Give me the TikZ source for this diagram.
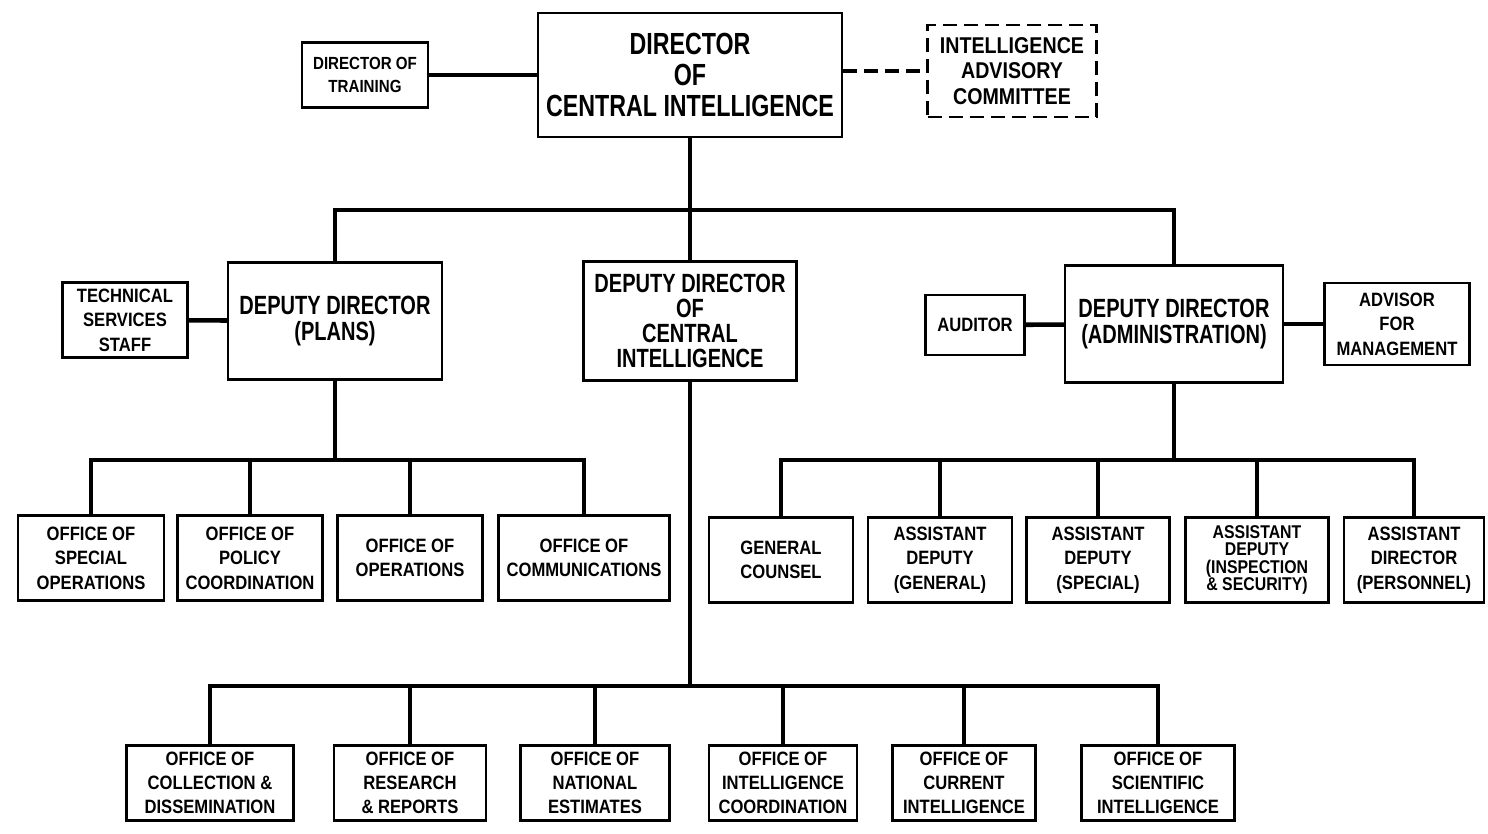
\documentclass[tikz,border=0pt]{standalone}
\usepackage{fontspec}
\newfontfamily\orgfont{Liberation Sans}[FakeStretch=0.86]
\newfontfamily\bigorgfont{Liberation Sans}[FakeStretch=0.76]
\usepackage{tikz}

\begin{document}
\begin{tikzpicture}[x=0.02cm, y=-0.02cm,
		box/.style={draw, line width=1.3pt, align=center, inner sep=0pt,
			font=\orgfont\bfseries\fontsize{11}{14}\selectfont},
		bigbox/.style={box, font=\bigorgfont\bfseries\fontsize{15}{15.3}\selectfont},
		boxsize/.style 2 args={minimum width=#1*0.02cm, minimum height=#2*0.02cm},
		link/.style={line width=2.6pt}]
		\useasboundingbox (0,0) rectangle (1488,833);

		% Director and staff
		\node[box, boxsize={126}{65}, font=\orgfont\bfseries\fontsize{10}{13}\selectfont] (train) at (365,75) {DIRECTOR OF\\TRAINING};
		\node[bigbox, boxsize={304}{124}, font=\bigorgfont\bfseries\fontsize{17.4}{17.4}\selectfont] (dci) at (690,75) {DIRECTOR\\OF\\CENTRAL INTELLIGENCE};
		\node[box, boxsize={169}{92}, dashed, dash pattern=on 8pt off 4pt, font=\orgfont\bfseries\fontsize{13}{14.5}\selectfont] (iac) at (1012,71) {INTELLIGENCE\\ADVISORY\\COMMITTEE};
		\draw[link] (train) -- (dci);
		\draw[link, dash pattern=on 8pt off 4pt] (iac.west -| dci.east) -- (iac.west);

		% Deputies
		\node[box, boxsize={125}{75}] (tss) at (125,320) {TECHNICAL\\SERVICES\\STAFF};
		\node[bigbox, boxsize={214}{117}] (ddp) at (335,321) {DEPUTY DIRECTOR\\(PLANS)};
		\node[bigbox, boxsize={213}{119}, font=\bigorgfont\bfseries\fontsize{15}{14.3}\selectfont] (ddci) at (690,321) {DEPUTY DIRECTOR\\OF\\CENTRAL\\INTELLIGENCE};
		\node[box, boxsize={99}{60}] (aud) at (975,325) {AUDITOR};
		\node[bigbox, boxsize={218}{117}] (dda) at (1174,324) {DEPUTY DIRECTOR\\(ADMINISTRATION)};
		\node[box, boxsize={145}{82}] (adv) at (1397,324) {ADVISOR\\FOR\\MANAGEMENT};

		\coordinate (topbus) at (690,210);
		\draw[link] (dci) -- (ddci);
		\draw[link] (ddp.north) |- (topbus) -| (dda.north);
		\draw[link] (tss) -- (ddp);
		\draw[link] (aud) -- (dda);
		\draw[link] (dda) -- (adv);

		% Plans offices
		\node[box, boxsize={146}{85}] (spec) at (91,558) {OFFICE OF\\SPECIAL\\OPERATIONS};
		\node[box, boxsize={145}{85}] (policy) at (250,558) {OFFICE OF\\POLICY\\COORDINATION};
		\node[box, boxsize={145}{85}] (ops) at (410,558) {OFFICE OF\\OPERATIONS};
		\node[box, boxsize={171}{85}] (comm) at (584,558) {OFFICE OF\\COMMUNICATIONS};
		\coordinate (planbus) at (335,460);
		\draw[link] (ddp) -- (planbus);
		\foreach \n in {spec,policy,ops,comm}
			\draw[link] (planbus) -| (\n.north);

		% Administration offices
		\node[box, boxsize={144}{85}] (gc) at (781,560) {GENERAL\\COUNSEL};
		\node[box, boxsize={144}{85}] (agen) at (940,560) {ASSISTANT\\DEPUTY\\(GENERAL)};
		\node[box, boxsize={143}{85}] (aspec) at (1098,560) {ASSISTANT\\DEPUTY\\(SPECIAL)};
		\node[box, boxsize={143}{85}, font=\orgfont\bfseries\fontsize{10.5}{9.8}\selectfont] (ainsp) at (1257,560) {ASSISTANT\\DEPUTY\\(INSPECTION\\\& SECURITY)};
		\node[box, boxsize={140}{85}] (apers) at (1414,560) {ASSISTANT\\DIRECTOR\\(PERSONNEL)};
		\coordinate (admbus) at (1174,460);
		\draw[link] (dda) -- (admbus);
		\foreach \n in {gc,agen,aspec,ainsp,apers}
			\draw[link] (admbus) -| (\n.north);

		% Intelligence offices
		\node[box, boxsize={167}{75}, font=\orgfont\bfseries\fontsize{11}{13.6}\selectfont] (coll) at (210,783) {OFFICE OF\\COLLECTION \&\\DISSEMINATION};
		\node[box, boxsize={152}{75}, font=\orgfont\bfseries\fontsize{11}{13.6}\selectfont] (res) at (410,783) {OFFICE OF\\RESEARCH\\\& REPORTS};
		\node[box, boxsize={149}{75}, font=\orgfont\bfseries\fontsize{11}{13.6}\selectfont] (nat) at (595,783) {OFFICE OF\\NATIONAL\\ESTIMATES};
		\node[box, boxsize={148}{75}, font=\orgfont\bfseries\fontsize{11}{13.6}\selectfont] (icoord) at (783,783) {OFFICE OF\\INTELLIGENCE\\COORDINATION};
		\node[box, boxsize={143}{75}, font=\orgfont\bfseries\fontsize{11}{13.6}\selectfont] (curr) at (964,783) {OFFICE OF\\CURRENT\\INTELLIGENCE};
		\node[box, boxsize={153}{75}, font=\orgfont\bfseries\fontsize{11}{13.6}\selectfont] (sci) at (1158,783) {OFFICE OF\\SCIENTIFIC\\INTELLIGENCE};
		\coordinate (dcibus) at (690,686);
		\draw[link] (ddci) -- (dcibus);
		\foreach \n in {coll,res,nat,icoord,curr,sci}
			\draw[link] (dcibus) -| (\n.north);
	\end{tikzpicture}
\end{document}
